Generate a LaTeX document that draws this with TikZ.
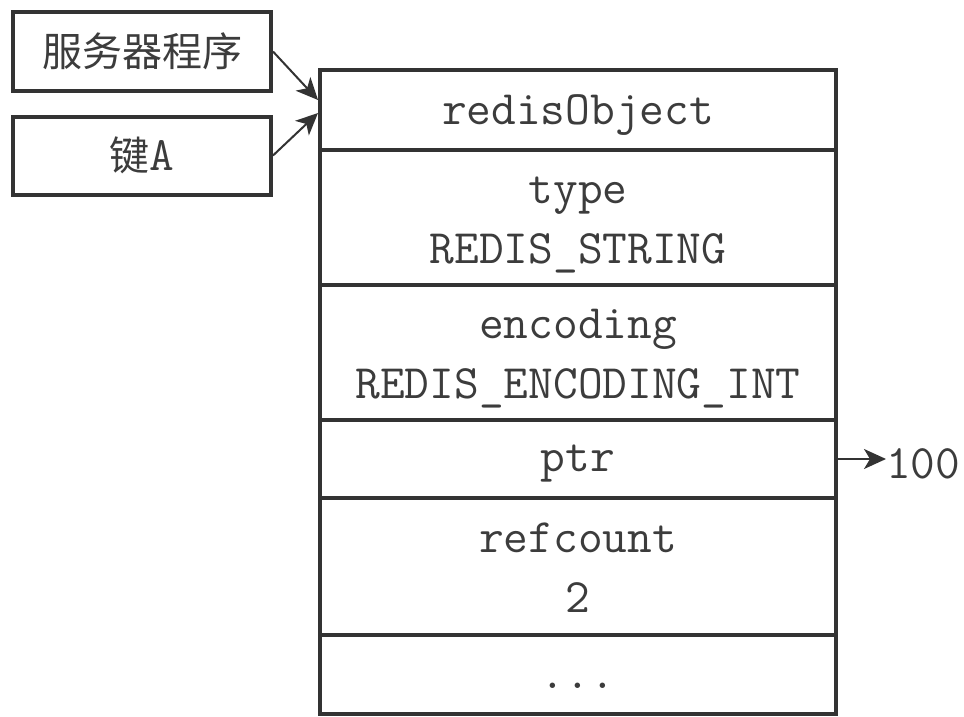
\documentclass[tikz,border=0pt]{standalone}
\usepackage{fontspec}
\newfontfamily\cjk{Noto Sans CJK SC}
\usetikzlibrary{arrows.meta}
\definecolor{ln}{HTML}{333333}
\definecolor{tx}{HTML}{3c3c3c}
\newcommand{\dn}[1]{\raisebox{-5pt}[\height][\depth]{#1}}
\tikzset{
  mono/.style={font=\ttfamily\fontsize{48}{56}\selectfont, text=tx},
  cell/.style={mono, draw=ln, line width=4pt, minimum width=516pt, inner sep=0pt, align=center},
  side/.style={mono, draw=ln, line width=4pt, minimum width=258pt, minimum height=78pt, inner sep=0pt},
  arr/.style={draw=ln, line width=2pt, -{Stealth[length=22pt,width=20pt,inset=6pt]}},
}
\begin{document}
\begin{tikzpicture}[x=1pt,y=-1pt]
\useasboundingbox (0,0) rectangle (964,717);
\node[cell, minimum height=80pt]  (r1) at (578,110)   {\dn{redisObject}};
\node[cell, minimum height=135pt] (r2) at (578,217.5) {\dn{\begin{tabular}{@{}c@{}}type\\[4pt]REDIS\_STRING\end{tabular}}};
\node[cell, minimum height=135pt] (r3) at (578,352.5) {\dn{\begin{tabular}{@{}c@{}}encoding\\[4pt]REDIS\_ENCODING\_INT\end{tabular}}};
\node[cell, minimum height=78pt]  (r4) at (578,459)   {\dn{ptr}};
\node[cell, minimum height=137pt] (r5) at (578,566.5) {\dn{\begin{tabular}{@{}c@{}}refcount\\[4pt]2\end{tabular}}};
\node[cell, minimum height=79pt, text height=30pt, text depth=3pt] (r6) at (578,674.5) {...};
\node[side] (b1) at (142,51.5)  {{\cjk\fontsize{40}{48}\selectfont 服务器程序}};
\node[side] (b2) at (142,155.5) {{\cjk\fontsize{40}{48}\selectfont 键}A};
\node[mono, anchor=west, inner sep=0pt] (v) at (886,459) {\dn{100}};
\draw[arr] (b1.east) -- ([yshift=10pt]r1.west);
\draw[arr] (b2.east) -- ([yshift=-3pt]r1.west);
\draw[arr] (r4.east) -- (v.west);
\end{tikzpicture}
\end{document}
